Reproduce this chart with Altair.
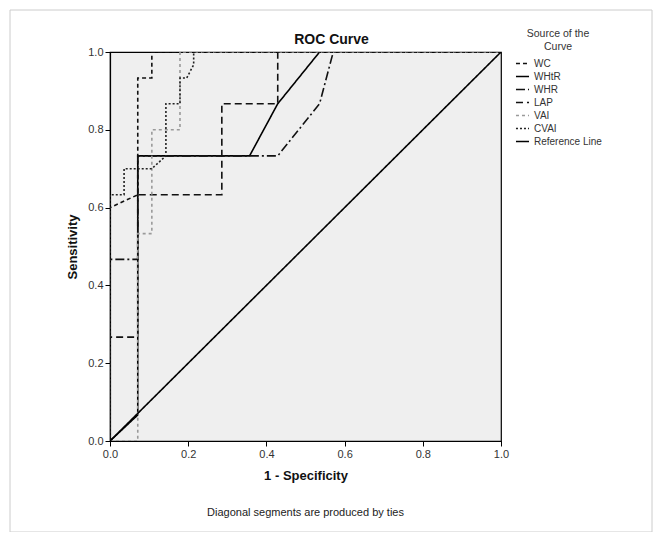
import altair as alt
import pandas as pd

# ---- data ----
series_names = ["WC", "WHtR", "WHR", "LAP", "VAI", "CVAI", "Reference Line"]

wc_x = [0, 0, 0.071, 0.071, 0.107, 0.107, 1]
wc_y = [0, 0.6, 0.633, 0.933, 0.933, 1.0, 1]

whtr_x = [0, 0.071, 0.071, 0.357, 0.429, 0.536, 1]
whtr_y = [0, 0.067, 0.733, 0.733, 0.867, 1.0, 1]

whr_x = [0, 0, 0.071, 0.071, 0.429, 0.536, 0.571, 1]
whr_y = [0, 0.467, 0.467, 0.733, 0.733, 0.867, 1.0, 1]

lap_x = [0, 0, 0.071, 0.071, 0.286, 0.286, 0.429, 0.429, 1]
lap_y = [0, 0.267, 0.267, 0.633, 0.633, 0.867, 0.867, 1.0, 1]

vai_x = [0, 0.071, 0.071, 0.107, 0.107, 0.179, 0.179, 1]
vai_y = [0, 0, 0.533, 0.533, 0.8, 0.8, 1.0, 1]

cvai_x = [0, 0, 0.036, 0.036, 0.107, 0.143, 0.143, 0.179, 0.179, 0.196, 0.214, 0.214, 1]
cvai_y = [0, 0.633, 0.633, 0.7, 0.7, 0.733, 0.867, 0.867, 0.933, 0.933, 0.967, 1.0, 1]

ref_x = [0, 1]
ref_y = [0, 1]

chart_title = "ROC Curve"
footnote_text = "Diagonal segments are produced by ties"

xs = [wc_x, whtr_x, whr_x, lap_x, vai_x, cvai_x, ref_x]
ys = [wc_y, whtr_y, whr_y, lap_y, vai_y, cvai_y, ref_y]

rows = []
for name, xx, yy in zip(series_names, xs, ys):
    for i, (a, b) in enumerate(zip(xx, yy)):
        rows.append({"series": name, "fpr": a, "tpr": b, "idx": i})
df = pd.DataFrame(rows)

dashes = [[4, 3], [1, 0], [9, 3, 2, 3], [7, 4], [3, 3], [2, 2], [1, 0]]
colors = ["#111111", "#000000", "#111111", "#111111", "#9a9a9a", "#222222", "#000000"]
widths = [1.6, 1.6, 1.4, 1.8, 1.4, 2.2, 1.0]

FONT = "Liberation Sans"
W, H = 391, 389

lines = alt.Chart(df).mark_line(clip=True).encode(
    x=alt.X("fpr:Q", title="1 - Specificity",
            scale=alt.Scale(domain=[0, 1], nice=False, zero=False),
            axis=alt.Axis(values=[0, 0.2, 0.4, 0.6, 0.8, 1.0], format=".1f",
                          grid=False, tickSize=5, titleFontWeight="bold",
                          titleFontSize=13, titlePadding=10, labelPadding=2,
                          labelFlush=False)),
    y=alt.Y("tpr:Q", title="Sensitivity",
            scale=alt.Scale(domain=[0, 1], nice=False, zero=False),
            axis=alt.Axis(values=[0, 0.2, 0.4, 0.6, 0.8, 1.0], format=".1f",
                          grid=False, tickSize=5, titleFontWeight="bold",
                          titleFontSize=13, titlePadding=8, labelPadding=2,
                          labelFlush=False)),
    color=alt.Color("series:N", sort=series_names,
                    scale=alt.Scale(domain=series_names, range=colors),
                    legend=alt.Legend(title=["Source of the", "Curve"],
                                      orient="none", legendX=405, legendY=-23,
                                      symbolType="stroke", symbolSize=170,
                                      symbolStrokeWidth=1.5, labelFontSize=10,
                                      titleFontSize=10.5, titleFontWeight="normal",
                                      titleAnchor="middle", titleAlign="center",
                                      rowPadding=0, labelLimit=200, titlePadding=4)),
    strokeDash=alt.StrokeDash("series:N", sort=series_names,
                              scale=alt.Scale(domain=series_names, range=dashes)),
    strokeWidth=alt.StrokeWidth("series:N", sort=series_names,
                                scale=alt.Scale(domain=series_names, range=widths),
                                legend=None),
    order=alt.Order("idx:Q"),
    detail="series:N",
)

footnote = alt.Chart(pd.DataFrame({"t": [footnote_text]})).mark_text(
    fontSize=11, font=FONT, color="#222222", align="center", baseline="middle"
).encode(text="t:N", x=alt.value(W / 2), y=alt.value(H + 72))

title_mark = alt.Chart(pd.DataFrame({"t": [chart_title]})).mark_text(
    fontSize=14, font=FONT, fontWeight="bold", color="#111111",
    align="center", baseline="alphabetic"
).encode(text="t:N", x=alt.value(W / 2 + 26), y=alt.value(-8))

frame = alt.Chart(pd.DataFrame({"a": [0]})).mark_rect(
    filled=False, stroke="#cccccc", strokeWidth=1
).encode(x=alt.value(-100), x2=alt.value(542), y=alt.value(-42), y2=alt.value(480))

chart = alt.layer(frame, lines, footnote, title_mark).properties(
    width=W, height=H,
    background="white",
    autosize=alt.AutoSizeParams(type="none"),
    padding={"left": 102, "top": 44, "right": 153, "bottom": 91},
).configure_view(
    fill="#efefef", stroke="#000000", strokeWidth=1.2
).configure_axis(
    labelFont=FONT, titleFont=FONT, labelFontSize=11, labelColor="#333333",
    titleColor="#111111", domainColor="#000000", tickColor="#000000",
    domainWidth=1.2
).configure_legend(
    labelFont=FONT, titleFont=FONT, labelColor="#333333", titleColor="#333333"
)

chart.save("out.html", embed_options={"renderer": "svg", "actions": False})
